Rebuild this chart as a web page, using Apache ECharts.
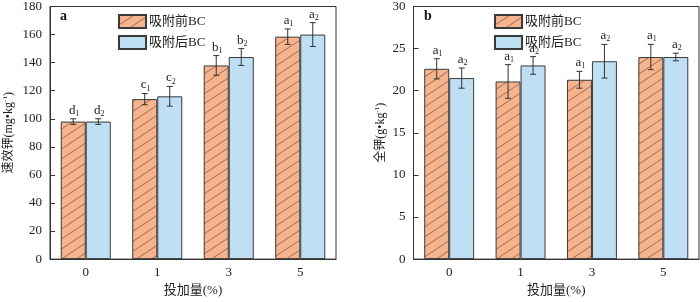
<!DOCTYPE html>
<html>
<head>
<meta charset="utf-8">
<script src="https://cdn.jsdelivr.net/npm/echarts@6/dist/echarts.min.js"></script>
<style>html,body{margin:0;padding:0;background:#fff}#c{width:700px;height:302px}</style>
</head>
<body>
<div id="c"></div>
<script>
const categories = ['0', '1', '3', '5'];
const seriesNames = ['吸附前BC', '吸附后BC'];
// Panel a: available K (mg/kg)
const availBefore = [98, 114, 138, 158.5];
const availBeforeErr = [2, 4, 7, 5.5];
const availAfter = [98, 116, 144, 160];
const availAfterErr = [2, 7, 6, 8.5];
const availBeforeLetters = ['d', 'c', 'b', 'a'];
const availAfterLetters = ['d', 'c', 'b', 'a'];
// Panel b: total K (g/kg)
const totalBefore = [22.6, 21.1, 21.3, 24.0];
const totalBeforeErr = [1.2, 2.0, 1.0, 1.5];
const totalAfter = [21.5, 23.0, 23.5, 24.0];
const totalAfterErr = [1.2, 1.05, 2.0, 0.45];
const totalBeforeLetters = ['a', 'a', 'a', 'a'];
const totalAfterLetters = ['a', 'a', 'a', 'a'];
const availTicks = {min: 0, max: 180, interval: 20};
const totalTicks = {min: 0, max: 30, interval: 5};

const SERIF = '"Liberation Serif", "Times New Roman", serif';
const CJK = '"Liberation Serif", "Noto Sans CJK SC", serif';
const TXT = '#222';

function makeHatch() {
  const c = document.createElement('canvas');
  c.width = 15; c.height = 10;
  const g = c.getContext('2d');
  g.fillStyle = '#f7b48c';
  g.fillRect(0, 0, 15, 10);
  g.strokeStyle = '#8f6350';
  g.lineWidth = 0.9;
  [[0,0],[0,-10],[0,10],[-15,0],[15,0]].forEach(([dx,dy]) => {
    g.beginPath();
    g.moveTo(0 + dx, 10 + dy);
    g.lineTo(15 + dx, 0 + dy);
    g.stroke();
  });
  return c;
}
const hatch = {image: makeHatch(), repeat: 'repeat'};
const blue = '#bfe0f4';

const chart = echarts.init(document.getElementById('c'), null, {renderer: 'canvas'});

function errData(means, errs) {
  return means.map((m, i) => [i, m, errs[i]]);
}

function makeRender(letters, sub, sign) {
  return function (params, api) {
    const ci = api.value(0), m = api.value(1), e = api.value(2);
    const letter = letters[params.dataIndex];
    const band = api.size([1, 0])[0];
    const c = api.coord([ci, m]);
    const x = c[0] + sign * 0.175 * band;
    const yt = api.coord([ci, m + e])[1];
    const yb = api.coord([ci, m - e])[1];
    const st = {stroke: '#333', lineWidth: 1};
    const cap = 3;
    return {
      type: 'group',
      children: [
        {type: 'line', shape: {x1: x, y1: yt, x2: x, y2: yb}, style: st},
        {type: 'line', shape: {x1: x - cap, y1: yt, x2: x + cap, y2: yt}, style: st},
        {type: 'line', shape: {x1: x - cap, y1: yb, x2: x + cap, y2: yb}, style: st},
        {type: 'text', x: x + 1, y: yt - 1, style: {
          text: '{m|' + letter + '}{s|' + sub + '}',
          align: 'center', verticalAlign: 'bottom',
          rich: {
            m: {fontSize: 13, fontFamily: SERIF, fill: TXT, lineHeight: 15},
            s: {fontSize: 8, fontFamily: SERIF, fill: TXT, verticalAlign: 'bottom', lineHeight: 15, padding: [3, 0, 0, 0]}
          }
        }}
      ]
    };
  };
}

function axisX(gi) {
  return {
    type: 'category', gridIndex: gi, data: categories,
    axisTick: {show: false},
    axisLine: {lineStyle: {color: '#333', width: 1}},
    axisLabel: {fontFamily: SERIF, fontSize: 13, color: TXT, margin: 7},
    name: '投加量(%)', nameLocation: 'middle', nameGap: 22,
    nameTextStyle: {fontFamily: CJK, fontSize: 13, color: TXT}
  };
}
function axisY(gi, t, nameRich, gap) {
  return {
    type: 'value', gridIndex: gi, min: t.min, max: t.max, interval: t.interval,
    splitLine: {show: false},
    axisLine: {show: true, lineStyle: {color: '#333', width: 1}},
    axisTick: {show: true, inside: true, length: 5, lineStyle: {color: '#333'}},
    axisLabel: {fontFamily: SERIF, fontSize: 13, color: TXT, margin: 8},
    name: nameRich, nameLocation: 'middle', nameGap: gap,
    nameTextStyle: {
      fontFamily: CJK, fontSize: 12, color: TXT,
      rich: {
        n: {fontFamily: CJK, fontSize: 12, color: TXT, lineHeight: 14},
        s: {fontFamily: SERIF, fontSize: 7, color: TXT, verticalAlign: 'top', lineHeight: 14}
      }
    }
  };
}
function barSeries(name, gi, data, color) {
  return {
    type: 'bar', name: name, xAxisIndex: gi, yAxisIndex: gi, data: data,
    barWidth: '35%', barGap: '0%',
    itemStyle: {color: color, borderColor: '#3a3a3a', borderWidth: 1},
    emphasis: {disabled: true}, z: 2
  };
}
function errSeries(gi, data, letters, sub, sign) {
  return {
    type: 'custom', xAxisIndex: gi, yAxisIndex: gi, data: data,
    renderItem: makeRender(letters, sub, sign), z: 5, silent: true
  };
}
function legend(left) {
  return {
    data: seriesNames, orient: 'vertical', left: left, top: 9,
    itemWidth: 27, itemHeight: 13, itemGap: 6,
    icon: 'rect',
    textStyle: {fontFamily: CJK, fontSize: 13, color: TXT, padding: [0, 0, 0, -2]},
    selectedMode: false
  };
}

chart.setOption({
  animation: false,
  backgroundColor: '#fff',
  grid: [
    {left: 50, right: 364, top: 5.5, bottom: 37, show: true, borderColor: '#333', borderWidth: 1, containLabel: false},
    {left: 413.5, right: 1, top: 5.5, bottom: 37, show: true, borderColor: '#333', borderWidth: 1, containLabel: false}
  ],
  legend: [legend(113), legend(489)],
  xAxis: [axisX(0), axisX(1)],
  yAxis: [
    axisY(0, availTicks, '{n|速效钾(mg•kg}{s|-1}{n|)}', 34),
    axisY(1, totalTicks, '{n|全钾(g•kg}{s|-1}{n|)}', 26)
  ],
  graphic: [
    {type: 'text', left: 60, top: 9, style: {text: 'a', font: 'bold 14px ' + SERIF, fill: '#111'}},
    {type: 'text', left: 424, top: 9, style: {text: 'b', font: 'bold 14px ' + SERIF, fill: '#111'}}
  ],
  series: [
    barSeries(seriesNames[0], 0, availBefore, hatch),
    barSeries(seriesNames[1], 0, availAfter, blue),
    errSeries(0, errData(availBefore, availBeforeErr), availBeforeLetters, 1, -1),
    errSeries(0, errData(availAfter, availAfterErr), availAfterLetters, 2, 1),
    barSeries(seriesNames[0], 1, totalBefore, hatch),
    barSeries(seriesNames[1], 1, totalAfter, blue),
    errSeries(1, errData(totalBefore, totalBeforeErr), totalBeforeLetters, 1, -1),
    errSeries(1, errData(totalAfter, totalAfterErr), totalAfterLetters, 2, 1)
  ]
});
</script>
</body>
</html>
